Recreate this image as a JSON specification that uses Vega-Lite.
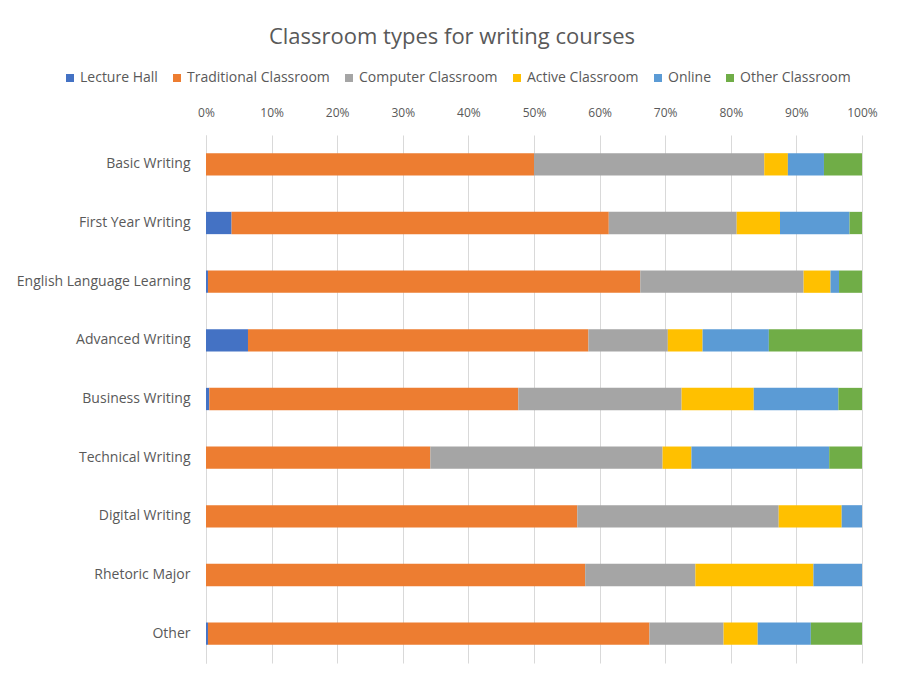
{
  "$schema": "https://vega.github.io/schema/vega-lite/v6.json",
  "width": 656,
  "height": 528,
  "autosize": {"type": "none"},
  "padding": {"left": 206, "top": 135, "right": 39, "bottom": 21},
  "background": "white",
  "title": {
    "text": "Classroom types for writing courses",
    "font": "Open Sans",
    "fontSize": 22,
    "fontWeight": "normal",
    "color": "#595959",
    "anchor": "middle",
    "frame": "group",
    "dx": -82,
    "offset": 22
  },
  "datasets": {
    "types": [
      {"type": "Lecture Hall", "rank": 1},
      {"type": "Traditional Classroom", "rank": 2},
      {"type": "Computer Classroom", "rank": 3},
      {"type": "Active Classroom", "rank": 4},
      {"type": "Online", "rank": 5},
      {"type": "Other Classroom", "rank": 6}
    ]
  },
  "data": {
    "values": [
      {"course": "Basic Writing", "Lecture Hall": 0, "Traditional Classroom": 50.0, "Computer Classroom": 35.1, "Active Classroom": 3.6, "Online": 5.5, "Other Classroom": 5.8},
      {"course": "First Year Writing", "Lecture Hall": 3.9, "Traditional Classroom": 57.5, "Computer Classroom": 19.5, "Active Classroom": 6.6, "Online": 10.6, "Other Classroom": 1.9},
      {"course": "English Language Learning", "Lecture Hall": 0.3, "Traditional Classroom": 65.9, "Computer Classroom": 24.9, "Active Classroom": 4.1, "Online": 1.3, "Other Classroom": 3.5},
      {"course": "Advanced Writing", "Lecture Hall": 6.4, "Traditional Classroom": 51.9, "Computer Classroom": 12.1, "Active Classroom": 5.3, "Online": 10.1, "Other Classroom": 14.2},
      {"course": "Business Writing", "Lecture Hall": 0.5, "Traditional Classroom": 47.1, "Computer Classroom": 24.9, "Active Classroom": 11.0, "Online": 12.9, "Other Classroom": 3.6},
      {"course": "Technical Writing", "Lecture Hall": 0, "Traditional Classroom": 34.2, "Computer Classroom": 35.4, "Active Classroom": 4.4, "Online": 21.0, "Other Classroom": 5.0},
      {"course": "Digital Writing", "Lecture Hall": 0, "Traditional Classroom": 56.6, "Computer Classroom": 30.7, "Active Classroom": 9.6, "Online": 3.1, "Other Classroom": 0},
      {"course": "Rhetoric Major", "Lecture Hall": 0, "Traditional Classroom": 57.8, "Computer Classroom": 16.8, "Active Classroom": 18.0, "Online": 7.4, "Other Classroom": 0},
      {"course": "Other", "Lecture Hall": 0.3, "Traditional Classroom": 67.3, "Computer Classroom": 11.3, "Active Classroom": 5.2, "Online": 8.1, "Other Classroom": 7.8}
    ]
  },
  "transform": [
    {"fold": ["Lecture Hall", "Traditional Classroom", "Computer Classroom", "Active Classroom", "Online", "Other Classroom"], "as": ["type", "share"]},
    {"lookup": "type", "from": {"data": {"name": "types"}, "key": "type", "fields": ["rank"]}}
  ],
  "mark": {"type": "bar"},
  "encoding": {
    "y": {
      "field": "course",
      "type": "nominal",
      "sort": ["Basic Writing", "First Year Writing", "English Language Learning", "Advanced Writing", "Business Writing", "Technical Writing", "Digital Writing", "Rhetoric Major", "Other"],
      "scale": {"paddingInner": 0.62, "paddingOuter": 0.31},
      "axis": {
        "title": null,
        "ticks": false,
        "domain": true,
        "domainColor": "#d9d9d9",
        "labelFont": "Open Sans",
        "labelFontSize": 14,
        "labelColor": "#595959",
        "labelPadding": 16,
        "grid": false
      }
    },
    "x": {
      "field": "share",
      "type": "quantitative",
      "stack": "normalize",
      "axis": {
        "orient": "top",
        "title": null,
        "format": ".0%",
        "values": [0, 0.1, 0.2, 0.3, 0.4, 0.5, 0.6, 0.7, 0.8, 0.9, 1],
        "domain": false,
        "ticks": false,
        "grid": true,
        "gridColor": "#d9d9d9",
        "labelFont": "Open Sans",
        "labelFontSize": 12,
        "labelColor": "#595959",
        "labelPadding": 16,
        "labelFlush": false
      }
    },
    "color": {
      "field": "type",
      "type": "nominal",
      "scale": {
        "domain": ["Lecture Hall", "Traditional Classroom", "Computer Classroom", "Active Classroom", "Online", "Other Classroom"],
        "range": ["#4472C4", "#ED7D31", "#A5A5A5", "#FFC000", "#5B9BD5", "#70AD47"]
      },
      "legend": {
        "orient": "none",
        "direction": "horizontal",
        "legendX": -143,
        "legendY": -64,
        "title": null,
        "symbolType": "square",
        "symbolSize": 64,
        "symbolStrokeWidth": 0,
        "labelFont": "Open Sans",
        "labelFontSize": 14,
        "labelColor": "#595959",
        "labelOffset": 3,
        "columnPadding": 12
      }
    },
    "order": {"field": "rank", "type": "quantitative"}
  },
  "config": {
    "view": {"stroke": null}
  }
}
